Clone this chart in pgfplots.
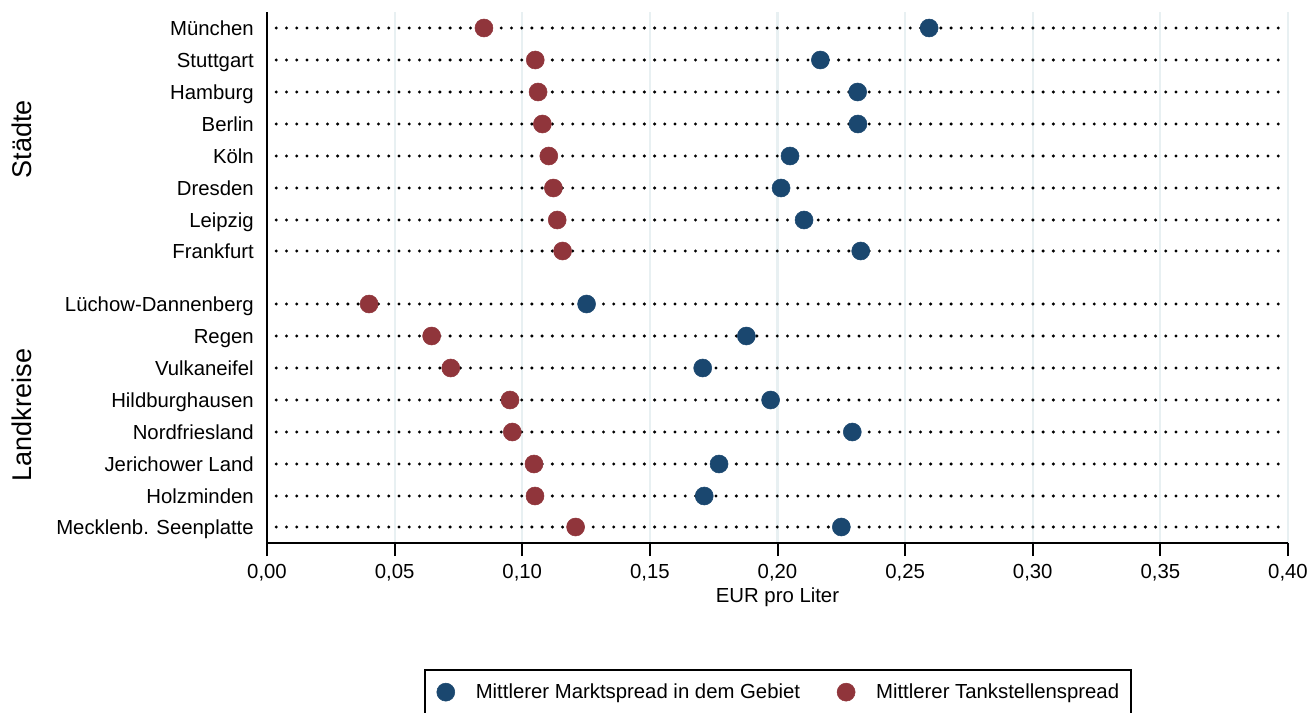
\documentclass[border=0pt]{standalone}
\usepackage{fontspec}
\setmainfont{Liberation Sans}
\usepackage{pgfplots}
\pgfplotsset{compat=1.18}
\usepackage{pgfplotstable}
\definecolor{navy}{RGB}{26,71,111}
\definecolor{maroon}{RGB}{144,53,59}
\definecolor{gridc}{RGB}{232,240,242}

\pgfplotstableread{
y markt tank
-28 0.2594 0.0850
-60 0.2168 0.1051
-92 0.2314 0.1062
-124 0.2315 0.1079
-156 0.2049 0.1104
-188 0.2014 0.1122
-220 0.2104 0.1137
-251 0.2326 0.1158
-304 0.1252 0.0400
-336 0.1878 0.0645
-368 0.1707 0.0720
-400 0.1973 0.0952
-432 0.2293 0.0961
-464 0.1771 0.1046
-496 0.1713 0.1050
-527 0.2250 0.1209
}\data

\begin{document}
\begin{tikzpicture}
\begin{axis}[
  at={(200.25pt,-407.25pt)}, anchor=south west,
  scale only axis, width=765.75pt, height=398.25pt,
  xmin=0, xmax=0.4, ymin=-543, ymax=-12,
  axis x line*=bottom, axis y line*=left,
  axis line style={-, line width=1.5pt, black},
  xtick={0,0.05,0.1,0.15,0.2,0.25,0.3,0.35,0.4},
  scaled x ticks=false,
  xticklabel={\pgfmathprintnumber[fixed, fixed zerofill, precision=2, use comma, assume math mode=true]{\tick}},
  xmajorgrids, major grid style={gridc, line width=1.6pt},
  tick align=outside, major tick length=9.75pt,
  xtick style={black, line width=1.5pt},
  ytick={-28,-60,-92,-124,-156,-188,-220,-251,-304,-336,-368,-400,-432,-464,-496,-527},
  yticklabels={München,Stuttgart,Hamburg,Berlin,Köln,Dresden,Leipzig,Frankfurt,Lüchow-Dannenberg,Regen,Vulkaneifel,Hildburghausen,Nordfriesland,Jerichower Land,Holzminden,Mecklenb. Seenplatte},
  ytick style={draw=none},
  ticklabel style={font=\fontsize{15.25}{18}\selectfont},
  yticklabel style={anchor=base east, inner sep=0pt, yshift=-5.46pt},
  xticklabel style={anchor=north, inner sep=0pt, yshift=-6pt},
  xlabel={EUR pro Liter},
  xlabel style={at={(axis description cs:0.5,-0.1111)}, anchor=base, inner sep=0pt, font=\fontsize{15.25}{18}\selectfont},
  legend columns=2,
  legend cell align=left,
  legend image code/.code={\draw[#1, line width=0.4pt] plot coordinates {(0pt,0pt)};},
  legend style={at={(0.15377,-0.2373)}, anchor=north west, draw=black, line width=1.2pt,
    inner xsep=9pt, inner ysep=10pt, font=\fontsize{15.25}{18}\selectfont,
    nodes={inner sep=0pt},
    column sep=15.75pt,
    /tikz/every even column/.append style={column sep=27.75pt}},
  clip=false,
]
\pgfplotsinvokeforeach{-28,-60,-92,-124,-156,-188,-220,-251,-304,-336,-368,-400,-432,-464,-496,-527}{
  \addplot[forget plot, black, line width=2.5pt, line cap=round, dash pattern=on 0pt off 7.668pt, dash phase=0.69pt] coordinates {(0,#1) (0.4,#1)};
}
\addplot[only marks, mark=*, mark size=6.75pt, color=navy, mark options={fill=navy, draw=navy}] table[x=markt, y=y]{\data};
\addlegendentry{Mittlerer Marktspread in dem Gebiet}
\addplot[only marks, mark=*, mark size=6.75pt, color=maroon, mark options={fill=maroon, draw=maroon}] table[x=tank, y=y]{\data};
\addlegendentry{Mittlerer Tankstellenspread}
\end{axis}
\node[rotate=90, inner sep=0pt, font=\fontsize{20.3}{24}\selectfont] at (16.3pt,-104.4pt) {Städte};
\node[rotate=90, inner sep=0pt, font=\fontsize{20.3}{24}\selectfont] at (16.3pt,-311.25pt) {Landkreise};
\pgfresetboundingbox
\useasboundingbox (0,0) rectangle (981.75pt,-534.75pt);
\end{tikzpicture}
\end{document}
